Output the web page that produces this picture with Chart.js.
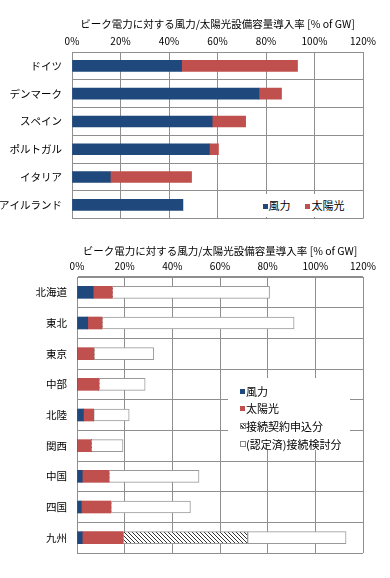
<!DOCTYPE html>
<html><head><meta charset="utf-8">
<script src="https://cdn.jsdelivr.net/npm/chart.js@4/dist/chart.umd.min.js"></script>
<style>
html,body{margin:0;padding:0;background:#fff;}
body{width:390px;height:578px;position:relative;overflow:hidden;font-family:"Noto Sans CJK JP",sans-serif;color:#000;}
.title{position:absolute;font-size:10.5px;text-align:center;white-space:nowrap;line-height:1;}
canvas{position:absolute;left:0;}
.legend{position:absolute;background:#fff;font-size:11px;}
.item{position:absolute;white-space:nowrap;line-height:1;font-size:11px;}
.sw{position:absolute;box-sizing:border-box;}
</style></head><body>
<canvas id="c1" width="390" height="235" style="top:0"></canvas>
<canvas id="c2" width="390" height="338" style="top:240px"></canvas>
<div class="title" id="t1" style="left:72px;width:291px;top:18.5px;"></div>
<div class="title" id="t2" style="left:77px;width:286px;top:245.5px;"></div>

<div class="legend" style="left:255px;top:194px;width:103px;height:23px;">
  <div class="sw" style="left:7.5px;top:9.5px;width:5px;height:5px;background:#1F497D"></div>
  <div class="item" style="left:13.5px;top:6px;" id="l1a"></div>
  <div class="sw" style="left:50px;top:9.5px;width:5px;height:5px;background:#C0504D"></div>
  <div class="item" style="left:56.5px;top:6px;" id="l1b"></div>
</div>

<div class="legend" style="left:228px;top:378px;width:122px;height:72px;">
  <div class="sw" style="left:12px;top:10.5px;width:5px;height:5px;background:#1F497D"></div>
  <div class="item" style="left:18px;top:8px;" id="l2a"></div>
  <div class="sw" style="left:12px;top:28px;width:5px;height:5px;background:#C0504D"></div>
  <div class="item" style="left:18px;top:25px;" id="l2b"></div>
  <div class="sw" style="left:11.5px;top:45px;width:6px;height:6px;border:1px solid #888;background:repeating-linear-gradient(45deg,#fff 0 1.4px,#444 1.4px 2.4px)"></div>
  <div class="item" style="left:18px;top:42.5px;" id="l2c"></div>
  <div class="sw" style="left:11.5px;top:62.5px;width:6px;height:6px;border:1px solid #888;background:#fff"></div>
  <div class="item" style="left:18px;top:60.5px;" id="l2d"></div>
</div>

<script>
// ---- data ----
const chartTitle = 'ビーク電力に対する風力/太陽光設備容量導入率 [% of GW]';
const xTicks = [0, 20, 40, 60, 80, 100, 120];

const countryCategories = ['ドイツ', 'デンマーク', 'スペイン', 'ポルトガル', 'イタリア', 'アイルランド'];
const countryWind  = [45.2, 77.1, 57.8, 56.7, 15.8, 45.7];
const countrySolar = [47.8, 9.3, 13.8, 3.7, 33.5, 0];

const regionCategories = ['北海道', '東北', '東京', '中部', '北陸', '関西', '中国', '四国', '九州'];
const regionWind     = [6.8, 4.5, 0, 0, 2.7, 0, 2.2, 1.8, 2.2];
const regionSolar    = [8.0, 6.0, 7.1, 9.2, 4.3, 6.0, 11.2, 12.4, 17.1];
const regionApplied  = [0, 0, 0, 0, 0, 0, 0, 0, 52.3];
const regionReviewed = [66.0, 80.6, 25.1, 19.4, 14.9, 13.3, 37.8, 33.4, 41.3];

const seriesNames = ['風力', '太陽光', '接続契約申込分', '(認定済)接続検討分'];

// ---- text ----
document.getElementById('t1').textContent = chartTitle;
document.getElementById('t2').textContent = chartTitle;
document.getElementById('l1a').textContent = seriesNames[0];
document.getElementById('l1b').textContent = seriesNames[1];
document.getElementById('l2a').textContent = seriesNames[0];
document.getElementById('l2b').textContent = seriesNames[1];
document.getElementById('l2c').textContent = seriesNames[2];
document.getElementById('l2d').textContent = seriesNames[3];

Chart.defaults.font.family = "'Noto Sans CJK JP', sans-serif";
Chart.defaults.color = '#000';

const GRID = '#8e8e8e';

function hatch() {
  const c = document.createElement('canvas');
  c.width = 4; c.height = 4;
  const g = c.getContext('2d');
  g.fillStyle = '#fff'; g.fillRect(0, 0, 4, 4);
  g.strokeStyle = '#333'; g.lineWidth = 1;
  g.beginPath();
  g.moveTo(-1, -1); g.lineTo(5, 5);
  g.moveTo(-1, 3); g.lineTo(1, 5);
  g.moveTo(3, -1); g.lineTo(5, 1);
  g.stroke();
  return g.createPattern(c, 'repeat');
}

function makeChart(id, cats, datasets, geo) {
  return new Chart(document.getElementById(id), {
    type: 'bar',
    data: { labels: cats, datasets: datasets },
    options: {
      indexAxis: 'y',
      responsive: false,
      animation: false,
      devicePixelRatio: 1,
      layout: { padding: { left: 0, top: 0, right: geo.right, bottom: geo.bottom } },
      plugins: { legend: { display: false }, tooltip: { enabled: false }, title: { display: false } },
      datasets: { bar: { barThickness: geo.bar, borderSkipped: false } },
      scales: {
        x: {
          position: 'top', stacked: true, min: xTicks[0], max: xTicks[xTicks.length - 1],
          afterBuildTicks: s => { s.ticks = xTicks.map(v => ({ value: v })); },
          afterFit: s => { s.height = geo.top; },
          ticks: { callback: v => v + '%', font: { size: 10 }, padding: 5, maxRotation: 0 },
          grid: { color: GRID, drawTicks: false, lineWidth: 1 },
          border: { color: GRID, width: 1 }
        },
        y: {
          stacked: true,
          afterFit: s => { s.width = geo.left; },
          ticks: { font: { size: 10.5 }, padding: 10 },
          grid: { color: GRID, drawTicks: false, offset: true, lineWidth: 1 },
          border: { color: GRID, width: 1 }
        }
      }
    }
  });
}

makeChart('c1', countryCategories, [
  { label: seriesNames[0], data: countryWind, backgroundColor: '#1F497D', borderWidth: 0 },
  { label: seriesNames[1], data: countrySolar, backgroundColor: '#C0504D', borderWidth: 0 }
], { left: 72, right: 27, top: 52, bottom: 15, bar: 11 });

const pat = hatch();
makeChart('c2', regionCategories, [
  { label: seriesNames[0], data: regionWind, backgroundColor: '#1F497D', borderWidth: 0 },
  { label: seriesNames[1], data: regionSolar, backgroundColor: '#C0504D', borderWidth: 0 },
  { label: seriesNames[2], data: regionApplied, backgroundColor: pat, borderColor: '#9a9a9a',
    borderWidth: c => (c.raw ? 1 : 0) },
  { label: seriesNames[3], data: regionReviewed, backgroundColor: '#fff', borderColor: '#9a9a9a',
    borderWidth: c => (c.raw ? 1 : 0) }
], { left: 77, right: 27, top: 37, bottom: 25, bar: 12 });
</script>
</body></html>
